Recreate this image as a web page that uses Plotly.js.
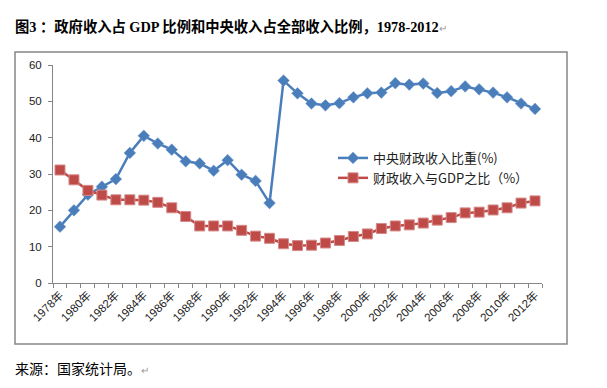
<!DOCTYPE html>
<html>
<head>
<meta charset="utf-8">
<script src="https://cdn.plot.ly/plotly-3.0.1.min.js"></script>
<style>
html,body{margin:0;padding:0;background:#fff;}
#chart{width:607px;height:388px;}
</style>
</head>
<body>
<div id="chart"></div>
<script>
const years = [1978,1979,1980,1981,1982,1983,1984,1985,1986,1987,1988,1989,1990,1991,1992,1993,1994,1995,1996,1997,1998,1999,2000,2001,2002,2003,2004,2005,2006,2007,2008,2009,2010,2011,2012];
const centralShare = [15.5,20.0,24.3,26.5,28.6,35.8,40.5,38.4,36.7,33.5,32.9,30.9,33.8,29.8,28.1,22.0,55.7,52.2,49.4,48.9,49.5,51.1,52.2,52.4,55.0,54.6,54.9,52.3,52.8,54.1,53.3,52.4,51.1,49.4,47.9];
const revenueGdp = [31.1,28.4,25.5,24.2,22.9,22.9,22.8,22.2,20.7,18.3,15.7,15.7,15.7,14.5,12.9,12.3,10.8,10.3,10.4,11.0,11.7,12.8,13.5,15.0,15.7,16.0,16.5,17.3,18.0,19.3,19.5,20.1,20.7,22.0,22.6];
const labelYears = years.filter((y,i)=>i%2===0);
const tickLabels = labelYears.map(y=>y+'年');
const seriesNames = ['中央财政收入比重(%)','财政收入与GDP之比（%）'];
const titleText = '图3&nbsp;：政府收入占 GDP 比例和中央收入占全部收入比例，1978-2012';
const sourceText = '来源：国家统计局。';

const W=607,H=388,L=53,R=65,T=65,B=105;
const pw=W-L-R, ph=H-T-B;
const px = v=>(v-L)/pw;
const py = v=>(H-B-v)/ph;

const traces = [
  {x:years, y:centralShare, name:seriesNames[0], type:'scatter', mode:'lines+markers',
   line:{color:'#4A7EBB',width:2.5},
   marker:{symbol:'diamond',size:9,color:'#4A7EBB',line:{color:'#6E97CC',width:0.5}}},
  {x:years, y:revenueGdp, name:seriesNames[1], type:'scatter', mode:'lines+markers',
   line:{color:'#BE4B48',width:2.5},
   marker:{symbol:'square',size:10,color:'#BE4B48',line:{color:'#D58A88',width:1}}},
  {x:[years[0]], y:[0], xaxis:'x2', type:'scatter', mode:'markers', marker:{opacity:0}, showlegend:false, hoverinfo:'skip'}
];
const layout = {
  width:W, height:H,
  margin:{l:L,r:R,t:T,b:B},
  paper_bgcolor:'#fff', plot_bgcolor:'#fff',
  font:{family:'"Liberation Sans","Noto Sans CJK SC",sans-serif', size:11, color:'#222'},
  showlegend:true,
  legend:{x:px(333), y:py(168), xanchor:'left', yanchor:'middle', bgcolor:'rgba(0,0,0,0)',
          font:{size:13,family:'"Noto Sans CJK SC",sans-serif',color:'#222'}, tracegroupgap:0, itemwidth:30},
  xaxis:{range:[years[0]-0.5, years[years.length-1]+0.5], tickvals:labelYears, ticktext:tickLabels,
         tickangle:-45, ticks:'', showgrid:false, zeroline:false, showline:true, linecolor:'#868686', linewidth:1,
         tickfont:{size:11.5,family:'"Liberation Sans","Noto Sans CJK SC",sans-serif'}, fixedrange:true},
  xaxis2:{overlaying:'x', matching:'x', range:[years[0]-0.5, years[years.length-1]+0.5], tick0:years[0]-0.5, dtick:1,
          ticks:'outside', ticklen:4, tickcolor:'#868686', showticklabels:false, showgrid:false, zeroline:false, showline:false, side:'bottom'},
  yaxis:{range:[0,60], dtick:10, ticks:'outside', ticklen:4, tickcolor:'#868686', showgrid:false, zeroline:false,
         showline:true, linecolor:'#868686', linewidth:1, tickfont:{size:11.5}, ticklabelstandoff:4},
  shapes:[
    {type:'rect', xref:'paper', yref:'paper', x0:px(15), x1:px(567), y0:py(344), y1:py(52),
     line:{color:'#868686',width:1.5}, fillcolor:'rgba(0,0,0,0)', layer:'below'}
  ],
  annotations:[
    {xref:'paper', yref:'paper', x:px(13), y:py(27), xanchor:'left', yanchor:'middle', showarrow:false,
     text:'<b>'+titleText+'</b><span style="color:#999;font-size:10px;font-weight:normal">↵</span>',
     font:{family:'"Liberation Serif","Noto Sans CJK SC",serif', size:14.3, color:'#000'}},
    {xref:'paper', yref:'paper', x:px(13), y:py(368), xanchor:'left', yanchor:'middle', showarrow:false,
     text:sourceText+'<span style="color:#999;font-size:10px">↵</span>',
     font:{family:'"Noto Sans CJK SC",sans-serif', size:14, color:'#000'}}
  ]
};
Plotly.newPlot('chart', traces, layout, {displayModeBar:false, staticPlot:true});
</script>
</body>
</html>
